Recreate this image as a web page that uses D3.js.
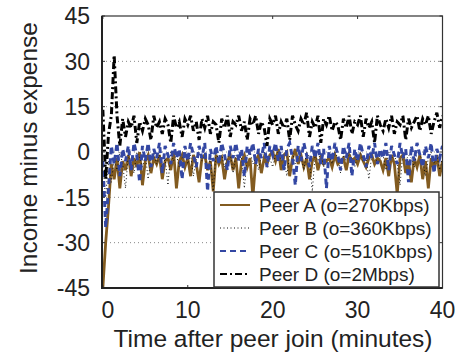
<!DOCTYPE html>
<html>
<head>
<meta charset="utf-8">
<script src="https://cdn.jsdelivr.net/npm/d3@7"></script>
<style>
  body { margin: 0; background: #fff; }
  svg { display: block; font-family: "Liberation Sans", Arial, Helvetica, sans-serif; }
</style>
</head>
<body>
<svg id="chart" width="456" height="353"></svg>
<script>
// samples every 20 s (1/3 minute), t = 0 .. 40 min
const sampleStep = 1 / 3;

const peerA = [
  -45, -30, -18, -4, -9, -2, -12, -3, -6, -1,
  -8, -2, -5, 0, -11, -3, -1, -7, -2, -4,
  -1, -9, -3, -2, -6, 0, -12, -3, -1, -5,
  -2, -8, -1, -4, -10, -2, -1, -6, -3, -13,
  -1, -4, -2, -9, -3, -1, -6, -2, -12, -3,
  -1, -5, -2, -15, -3, -1, -7, -2, -4, -1,
  0, -3, 1, -6, -1, 0, -8, -2, 1, -4,
  -1, -5, -2, -9, -3, -1, -6, -2, -4, -3,
  -2, -5, -1, -4, -3, -2, -6, -1, -3, -2,
  -4, -1, -3, -5, -2, -1, -4, -2, -3, -6,
  -2, -8, -1, -4, -14, -2, -1, -7, -3, -10,
  -2, -5, -1, -9, -3, -12, -2, -6, -1, -8, -3
];
const peerB = [
  -5, -15, -3, -10, -2, -6, 0, -4, -12, -1,
  -3, -7, 0, -2, -5, -1, -9, -2, 0, -4,
  -1, -6, -2, -11, 0, -3, -1, -5, -2, 0,
  -4, -1, -8, -2, 0, -3, -1, -6, -2, -13,
  0, -3, -1, -5, -2, 0, -7, -1, -3, -2,
  -12, -1, 0, -4, -2, -6, -1, 0, -3, -2,
  -5, -1, 0, -3, -2, -8, -1, 0, -4, -2,
  -1, -6, 0, -2, -13, -1, -3, 0, -5, -2,
  -1, -4, 0, -2, -7, -1, -3, 0, -2, -5,
  -1, 0, -3, -2, -9, -1, 0, -4, -2, -1,
  -6, 0, -2, -1, -4, -11, 0, -3, -1, -2,
  -5, 0, -1, -3, -8, -2, 0, -4, -1, -6, -2
];
const peerC = [
  -3, -25, -12, 2, -4, 3, -8, 1, -3, 2,
  -6, 3, -1, -10, 2, -3, 3, -5, 1, -2,
  3, -7, 2, -1, -4, 3, -2, 1, -9, 2,
  -3, 3, -1, -5, 2, -2, 3, -13, 1, -3,
  2, -4, 3, -1, -6, 2, -2, 3, -3, 1,
  -8, 2, -1, 3, -4, 1, -2, 3, -5, 2,
  -1, 3, -3, 2, -6, 1, 3, -2, -11, 2,
  -3, 3, -1, -5, 2, -2, 3, -4, 1, -12,
  2, -3, 3, -1, -6, 2, -2, 3, -8, 1,
  -3, 3, -1, -5, 2, -2, 3, -4, 1, -2,
  3, -6, 2, -1, -4, 3, -2, 1, -10, 2,
  -3, 3, -1, -5, 2, -2, 3, -7, 1, -2, 2
];
const peerD = [
  14, -9, 6, 12, 32, 12, 2, 11, 5, 10,
  8, 12, 3, 10, 7, 11, 9, 4, 12, 8,
  10, 6, 11, 9, 3, 12, 8, 10, 5, 11,
  9, 12, 7, 10, 4, 11, 8, 12, 6, 10,
  9, 3, 11, 8, 12, 5, 10, 9, 12, 7,
  10, 4, 11, 9, 12, 6, 10, 8, 2, 11,
  9, 12, 6, 10, 8, 11, 4, 12, 9, 7,
  11, 9, 13, 5, 10, 8, 12, 3, 11, 9,
  12, 7, 10, 9, 4, 11, 8, 12, 6, 10,
  9, 12, 5, 11, 8, 10, 3, 12, 9, 7,
  11, 8, 12, 6, 10, 9, 12, 4, 11, 8,
  10, 12, 7, 11, 9, 12, 6, 10, 13, 8, 12
];

const seriesNames = ["Peer A (o=270Kbps)", "Peer B (o=360Kbps)", "Peer C (o=510Kbps)", "Peer D (o=2Mbps)"];
const xTicks = [0, 10, 20, 30, 40];
const yTicks = [-45, -30, -15, 0, 15, 30, 45];

const styles = [
  { color: "#825b20", width: 2.8, dash: null },
  { color: "#111", width: 1, dash: "1,2.5" },
  { color: "#3347a3", width: 3, dash: "6,4" },
  { color: "#000", width: 3, dash: "7,3,2,3" }
];

const svg = d3.select("#chart");
const plotLeft = 102, plotRight = 442.5, plotTop = 16, plotBottom = 288;

const x = d3.scaleLinear().domain([-0.1, 40]).range([plotLeft, plotRight]);
const y = d3.scaleLinear().domain([-45, 45]).range([plotBottom, plotTop]);

// grid lines (dotted)
svg.append("g")
  .selectAll("line")
  .data(yTicks.filter(d => d > -45 && d < 45))
  .enter().append("line")
  .attr("x1", plotLeft).attr("x2", plotRight)
  .attr("y1", d => y(d)).attr("y2", d => y(d))
  .attr("stroke", "#888").attr("stroke-width", 1)
  .attr("stroke-dasharray", "1,3");

svg.append("clipPath").attr("id", "clip")
  .append("rect").attr("x", plotLeft).attr("y", plotTop)
  .attr("width", plotRight - plotLeft).attr("height", plotBottom - plotTop);

const line = d3.line()
  .x((d, i) => x(i * sampleStep))
  .y(d => y(d));

const allSeries = [peerA, peerB, peerC, peerD];
const plot = svg.append("g").attr("clip-path", "url(#clip)");
allSeries.forEach((s, k) => {
  plot.append("path")
    .datum(s)
    .attr("d", line)
    .attr("fill", "none")
    .attr("stroke", styles[k].color)
    .attr("stroke-width", styles[k].width)
    .attr("stroke-dasharray", styles[k].dash)
    .attr("stroke-linejoin", "miter");
});

// inward ticks on all sides
const tickG = svg.append("g").attr("stroke", "#333").attr("stroke-width", 1);
xTicks.forEach(t => {
  tickG.append("line").attr("x1", x(t)).attr("x2", x(t)).attr("y1", plotTop).attr("y2", plotTop + 3);
  tickG.append("line").attr("x1", x(t)).attr("x2", x(t)).attr("y1", plotBottom).attr("y2", plotBottom - 3);
});
yTicks.forEach(t => {
  tickG.append("line").attr("x1", plotRight).attr("x2", plotRight - 3).attr("y1", y(t)).attr("y2", y(t));
  tickG.append("line").attr("x1", plotLeft).attr("x2", plotLeft + 3).attr("y1", y(t)).attr("y2", y(t));
});

// frame
svg.append("rect")
  .attr("x", plotLeft).attr("y", plotTop)
  .attr("width", plotRight - plotLeft).attr("height", plotBottom - plotTop)
  .attr("fill", "none").attr("stroke", "#333").attr("stroke-width", 1.2);
svg.append("path")
  .attr("d", `M${plotLeft},${plotTop}V${plotBottom}H${plotRight}`)
  .attr("fill", "none").attr("stroke", "#222").attr("stroke-width", 2);

// tick labels
svg.append("g")
  .selectAll("text")
  .data(yTicks)
  .enter().append("text")
  .attr("x", 90)
  .attr("y", d => y(d))
  .attr("dy", "0.36em")
  .attr("text-anchor", "end")
  .style("font-size", "23px")
  .attr("fill", "#222")
  .text(d => d);

svg.append("g")
  .selectAll("text")
  .data(xTicks)
  .enter().append("text")
  .attr("x", d => d === 0 ? x(d) + 5 : x(d))
  .attr("y", 318)
  .attr("text-anchor", "middle")
  .style("font-size", "23px")
  .attr("fill", "#222")
  .text(d => d);

// axis titles
svg.append("text")
  .attr("x", 273).attr("y", 347)
  .attr("text-anchor", "middle")
  .style("font-size", "24.5px")
  .attr("fill", "#222")
  .text("Time after peer join (minutes)");

svg.append("text")
  .attr("transform", "translate(37,148) rotate(-90)")
  .attr("text-anchor", "middle")
  .style("font-size", "24.5px")
  .attr("fill", "#222")
  .text("Income minus expense");

// legend
const lg = svg.append("g");
lg.append("rect")
  .attr("x", 214).attr("y", 192)
  .attr("width", 225).attr("height", 95)
  .attr("fill", "#fff").attr("stroke", "#333").attr("stroke-width", 1.5);
seriesNames.forEach((name, k) => {
  const cy = 205 + k * 23;
  lg.append("line")
    .attr("x1", 220).attr("x2", 250)
    .attr("y1", cy).attr("y2", cy)
    .attr("stroke", styles[k].color)
    .attr("stroke-width", k === 1 ? 1 : 2)
    .attr("stroke-dasharray", styles[k].dash);
  lg.append("text")
    .attr("x", 259).attr("y", cy)
    .attr("dy", "0.36em")
    .style("font-size", "19px")
    .attr("fill", "#222")
    .text(name);
});
</script>
</body>
</html>
